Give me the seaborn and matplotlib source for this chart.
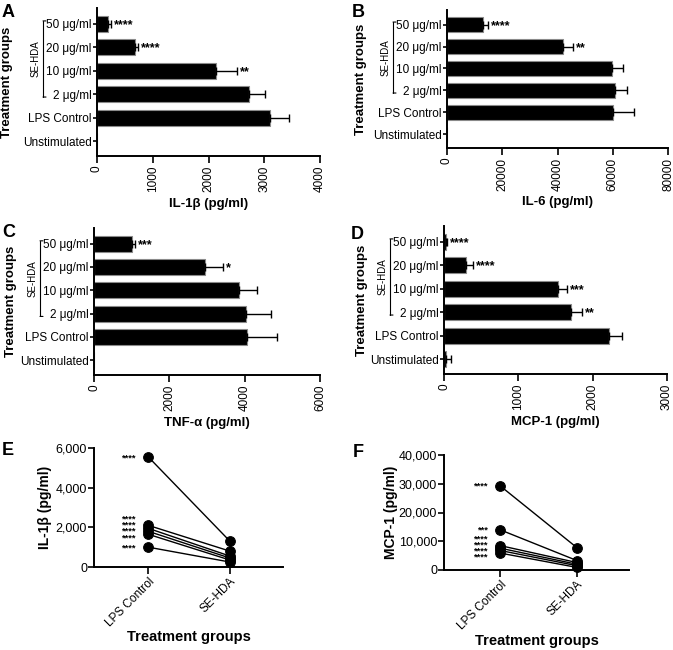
import matplotlib
matplotlib.use("Agg")
import matplotlib.pyplot as plt
import matplotlib.transforms as mtransforms
import seaborn as sns
import numpy as np
import pandas as pd

sns.set_style("ticks")
plt.rcParams['font.family'] = ['Liberation Sans', 'DejaVu Sans']
plt.rcParams['axes.linewidth'] = 1.4
plt.rcParams['xtick.major.width'] = 1.2
plt.rcParams['ytick.major.width'] = 1.2
for key in ['text.color', 'axes.labelcolor', 'xtick.color', 'ytick.color', 'axes.edgecolor']:
    plt.rcParams[key] = 'black'

groups = ["50 μg/ml", "20 μg/ml", "10 μg/ml", "2 μg/ml", "LPS Control", "Unstimulated"]

il1b_mean = [200, 680, 2130, 2730, 3100, 0]
il1b_err = [50, 60, 380, 290, 350, 0]
il1b_sig = ["****", "****", "**", "", "", ""]

il6_mean = [13000, 42000, 59900, 60800, 60100, 0]
il6_err = [2000, 3600, 3800, 4400, 7700, 0]
il6_sig = ["****", "**", "", "", "", ""]

tnf_mean = [1020, 2950, 3850, 4030, 4070, 0]
tnf_err = [70, 470, 490, 660, 790, 0]
tnf_sig = ["***", "*", "", "", "", ""]

mcp1_mean = [30, 290, 1530, 1710, 2215, 30]
mcp1_err = [15, 100, 125, 145, 180, 60]
mcp1_sig = ["****", "****", "***", "**", "", ""]

paired_groups = ["LPS Control", "SE-HDA"]
e_lps = [5550, 2100, 1950, 1800, 1650, 1000]
e_sehda = [1300, 800, 550, 450, 350, 250]
e_star_y = [5500, 2400, 2095, 1790, 1470, 980]
e_stars = ["****"] * 6

f_lps = [29300, 14000, 8500, 7600, 6800, 5900]
f_sehda = [7800, 3300, 2600, 2000, 1500, 900]
f_star_y = [29300, 14000, 10800, 8600, 6600, 4600]
f_stars = ["****", "***", "****", "****", "****", "****"]

fig = plt.figure(figsize=(6.73, 6.5), dpi=100)


def px_axes(left, top, right, bottom):
    W, H = 673.0, 650.0
    return fig.add_axes([left / W, 1 - bottom / H, (right - left) / W, (bottom - top) / H])


def bar_panel(ax, means, errs, sigs, xmax, xstep, xlabel, ylab_x):
    sns.barplot(x=means, y=groups, color="black", orient="h", ax=ax,
                width=0.68, edgecolor="#8a8a8a", linewidth=0.8, errorbar=None)
    for bar in ax.patches:
        bar.set_facecolor("black")
    ypos = np.arange(len(groups))
    has_err = np.array([e > 0 for e in errs])
    ax.errorbar(np.array(means)[has_err], ypos[has_err],
                xerr=[np.zeros(has_err.sum()), np.array(errs)[has_err]],
                fmt="none", ecolor="black", elinewidth=1.0, capsize=3.2, capthick=1.0)
    for y, m, e, s in zip(ypos, means, errs, sigs):
        if s:
            ax.annotate(s, (m + e, y), xytext=(2, -1), textcoords="offset points",
                        va="center", ha="left", fontsize=9, fontweight="bold")
    ax.set_xlim(0, xmax)
    ax.set_xticks(np.arange(0, xmax + 1, xstep))
    ax.set_xticklabels([str(v) for v in np.arange(0, xmax + 1, xstep)], rotation=90, fontsize=8.5)
    ax.set_ylim(5.63, -0.67)
    ax.tick_params(axis="y", labelsize=8.5, length=3, pad=1)
    ax.tick_params(axis="x", length=5, pad=2)
    ax.set_xlabel(xlabel, fontsize=9.5, fontweight="bold")
    ax.set_ylabel("Treatment groups", fontsize=9.5, fontweight="bold")
    ax.yaxis.set_label_coords(ylab_x, 0.5)
    sns.despine(ax=ax)
    # SE-HDA bracket, fixed pixel offsets left of the axis
    trans = mtransforms.blended_transform_factory(ax.transAxes, ax.transData)
    left = trans + mtransforms.ScaledTranslation(-54 / 100.0, 0, fig.dpi_scale_trans)
    tip = trans + mtransforms.ScaledTranslation(-51 / 100.0, 0, fig.dpi_scale_trans)
    ax.plot([0, 0], [-0.12, 3.12], transform=left, color="black", lw=0.8, clip_on=False)
    for yy in (-0.12, 3.12):
        ax.annotate("", xy=(0, yy), xycoords=tip, xytext=(0, yy), textcoords=left,
                    arrowprops=dict(arrowstyle="-", lw=0.8, color="black",
                                    shrinkA=0, shrinkB=0))
    toff = trans + mtransforms.ScaledTranslation(-61 / 100.0, 0, fig.dpi_scale_trans)
    ax.text(0, 1.5, "SE-HDA", transform=toff, rotation=90,
            ha="center", va="center", fontsize=7)


axA = px_axes(97, 8, 320, 156)
bar_panel(axA, il1b_mean, il1b_err, il1b_sig, 4000, 1000, "IL-1β (pg/ml)", -0.375)
axB = px_axes(447, 10, 668, 148)
bar_panel(axB, il6_mean, il6_err, il6_sig, 80000, 20000, "IL-6 (pg/ml)", -0.36)
axC = px_axes(94, 228, 320, 375)
bar_panel(axC, tnf_mean, tnf_err, tnf_sig, 6000, 2000, "TNF-α (pg/ml)", -0.34)
axD = px_axes(444, 226, 667, 374)
bar_panel(axD, mcp1_mean, mcp1_err, mcp1_sig, 3000, 1000, "MCP-1 (pg/ml)", -0.34)


def paired_panel(ax, before, after, star_y, stars, ymax, ystep, ylabel, xlim, ylab_x, xlab_y):
    rows = []
    for i, (b, a) in enumerate(zip(before, after)):
        rows.append({"donor": i, "group": paired_groups[0], "value": b})
        rows.append({"donor": i, "group": paired_groups[1], "value": a})
    df = pd.DataFrame(rows)
    sns.lineplot(data=df, x="group", y="value", units="donor", estimator=None,
                 color="black", lw=1.0, marker="o", markersize=7,
                 markeredgecolor="black", ax=ax)
    for y, s in zip(star_y, stars):
        ax.annotate(s, (0, y), xytext=(-9, 0), textcoords="offset points",
                    ha="right", va="center", fontsize=6.8, fontweight="bold")
    ax.set_xlim(*xlim)
    ax.set_ylim(0, ymax)
    ticks = np.arange(0, ymax + 1, ystep)
    ax.set_yticks(ticks)
    ax.set_yticklabels([f"{int(v):,}" for v in ticks], fontsize=9)
    ax.set_xticks([0, 1])
    ax.set_xticklabels(paired_groups, rotation=45, ha="right", rotation_mode="anchor", fontsize=8.5)
    ax.tick_params(axis="y", length=4, pad=1)
    ax.tick_params(axis="x", length=5, pad=1)
    ax.set_xlabel("Treatment groups", fontsize=10.5, fontweight="bold")
    ax.xaxis.set_label_coords(0.5, xlab_y)
    ax.set_ylabel(ylabel, fontsize=10, fontweight="bold")
    ax.yaxis.set_label_coords(ylab_x, 0.5)
    sns.despine(ax=ax)
    for line in ax.lines:
        line.set_clip_on(False)


axE = px_axes(94, 448, 283, 567)
paired_panel(axE, e_lps, e_sehda, e_star_y, e_stars, 6000, 2000, "IL-1β (pg/ml)",
             (-0.665, 1.65), -0.22, -0.53)
axF = px_axes(444, 455, 629, 570)
paired_panel(axF, f_lps, f_sehda, f_star_y, f_stars, 40000, 10000, "MCP-1 (pg/ml)",
             (-0.73, 1.68), -0.25, -0.56)

for letter, x, y in [("A", 2, 4), ("B", 352, 4), ("C", 2, 224), ("D", 351, 226),
                     ("E", 2, 442), ("F", 353, 444)]:
    fig.text(x / 673.0, 1 - y / 650.0, letter, fontsize=13, fontweight="bold",
             ha="left", va="top")

fig.savefig("out.png", dpi=100)
